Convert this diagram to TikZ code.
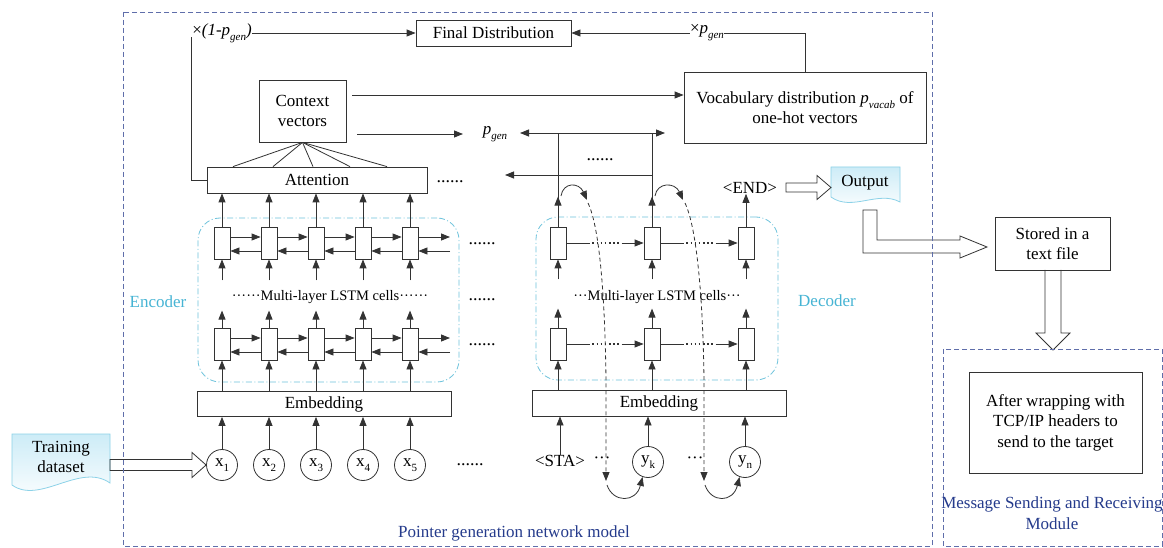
\documentclass[tikz,border=0pt]{standalone}
\usepackage{fontspec}
\setmainfont{Liberation Serif}
\usetikzlibrary{arrows.meta,calc}
\definecolor{ink}{HTML}{333333}
\definecolor{frameblue}{RGB}{95,110,170}
\definecolor{labelblue}{RGB}{37,59,140}
\definecolor{cyanline}{RGB}{110,195,220}
\definecolor{cyantext}{RGB}{70,180,212}
\definecolor{docline}{RGB}{140,210,232}
\definecolor{docfill}{RGB}{205,236,247}
\newcommand\sub[1]{\raisebox{-0.3em}{\fontsize{11}{11}\selectfont #1}}
\newcommand\pgen{\textit{p}\sub{\textit{gen}}}
\newcommand\pvacab{\textit{p}\sub{\textit{vacab}}}
\begin{document}
\begin{tikzpicture}[x=1pt,y=-1pt,
  every node/.style={font=\fontsize{17}{20.5}\selectfont, inner sep=0pt},
  ln/.style={draw=ink, line width=0.8pt},
  arr/.style={ln, -{Triangle[length=9pt,width=7pt]}},
  box/.style={draw=ink, line width=0.8pt, fill=white, align=center},
  cell/.style={box, minimum width=16pt, minimum height=32pt},
  tok/.style={draw=ink, line width=0.8pt, circle, minimum size=31pt, fill=white},
  hollow/.style={draw=ink, line width=0.8pt, line join=miter},
  dashframe/.style={draw=frameblue, line width=0.8pt, dash pattern=on 5pt off 3pt},
  lstmframe/.style={draw=cyanline, line width=0.8pt, dash pattern=on 6pt off 2.5pt on 1pt off 2.5pt, rounded corners=22pt},
  docshape/.style={draw=docline, line width=0.8pt, top color=docfill, bottom color=white},
  smalltxt/.style={font=\fontsize{14.5}{17}\selectfont},
  dotrow/.style={font=\fontsize{18}{20}\selectfont},
]
\fill[white] (0,0) rectangle (1163,548);
\useasboundingbox (0,0) rectangle (1163,548);

% ---------- top: distributions ----------
\node[box, minimum width=155pt, minimum height=26pt] (fd) at (493.5,33) {Final Distribution};
\node[box, minimum width=87pt, minimum height=62pt] (ctx) at (302.5,111) {Context\\vectors};
\node[box, minimum width=242pt, minimum height=71pt] (voc) at (805,107.5) {Vocabulary distribution \pvacab{} of\\one-hot vectors};
\node (wl) at (222,33) {×\textit{(1-}\pgen\textit{)}};
\node (xp) at (707,33) {×\pgen};
\node (pgl) at (495,134) {\pgen};

% ---------- encoder ----------
\node[box, minimum width=220pt, minimum height=26pt] (att) at (317,180) {Attention};
\node[box, minimum width=254pt, minimum height=25pt] (emb1) at (324,404) {Embedding};
\node[lstmframe, minimum width=261pt, minimum height=164pt] (encf) at (328.5,300) {};
\foreach \i/\x in {1/222,2/269,3/316,4/363,5/410} {
  \node[cell] (et\i) at (\x,243) {};
  \node[cell] (eb\i) at (\x,344) {};
  \node[tok] (x\i) at (\x,465) {x\sub{\i}};
}
\foreach \i in {1,...,5} {
  \draw[arr] (x\i.north) -- (emb1.south -| x\i);
  \draw[arr] (emb1.north -| eb\i) -- (eb\i.south);
  \draw[arr] (eb\i.north) -- ++(0,-17);
  \draw[arr] ([yshift=-21pt]et\i.south) -- (et\i.south);
  \draw[arr] (et\i.north) -- (att.south -| et\i);
}
\foreach \i/\j in {1/2,2/3,3/4,4/5} {
  \draw[arr] ([yshift=6pt]et\i.east) -- ([yshift=6pt]et\j.west);
  \draw[arr] ([yshift=-8pt]et\j.west) -- ([yshift=-8pt]et\i.east);
  \draw[arr] ([yshift=6pt]eb\i.east) -- ([yshift=6pt]eb\j.west);
  \draw[arr] ([yshift=-8pt]eb\j.west) -- ([yshift=-8pt]eb\i.east);
}
\coordinate (etf) at (450,237);
\coordinate (etb) at (450,251);
\coordinate (ebf) at (450,338);
\coordinate (ebb) at (450,352);
\draw[arr] ([yshift=6pt]et5.east) -- (etf);
\draw[arr] (etb) -- ([yshift=-8pt]et5.east);
\draw[arr] ([yshift=6pt]eb5.east) -- (ebf);
\draw[arr] (ebb) -- ([yshift=-8pt]eb5.east);
\node[smalltxt] (encml) at (330,297) {······Multi-layer LSTM cells······};
\node[text=cyantext] (encl) at (158,302) {Encoder};
\node[dotrow] (d1) at (482,244) {......};
\node[dotrow] (d2) at (482,300) {......};
\node[dotrow] (d3) at (482,345) {......};
\node[dotrow] (d4) at (450,182) {......};
\node[dotrow] (d5) at (470,465) {......};

% context vectors fan-in from the attention
\foreach \x in {233,273,313,350,387}
  \draw[ln] (ctx.south) -- (att.north -| \x,0);

% ---------- decoder ----------
\node[box, minimum width=254pt, minimum height=26pt] (emb2) at (659,403) {Embedding};
\node[lstmframe, minimum width=242pt, minimum height=163pt] (decf) at (657,298.5) {};
\foreach \i/\x in {1/558,2/652,3/746} {
  \node[cell] (dt\i) at (\x,243) {};
  \node[cell] (db\i) at (\x,344) {};
}
\foreach \i in {1,2,3} {
  \draw[arr] (emb2.north -| db\i) -- (db\i.south);
  \draw[arr] (db\i.north) -- ++(0,-19);
  \draw[arr] ([yshift=-20pt]dt\i.south) -- (dt\i.south);
}
\foreach \a/\b in {dt1/dt2,dt2/dt3,db1/db2,db2/db3} {
  \draw[ln] (\a.east) -- ($(\a.east)+(24,0)$);
  \draw[ln, line width=1.7pt, dash pattern=on 1.7pt off 2.4pt] ($(\a.east)+(26,0)$) -- ($(\b.west)+(-23,0)$);
  \draw[arr] ($(\b.west)+(-22,0)$) -- (\b.west);
}
\node[smalltxt] (decml) at (657,297) {···Multi-layer LSTM cells···};
\node[text=cyantext] (decl) at (827,301) {Decoder};

\node (sta) at (560,461) {<STA>};
\node (dd1) at (602,460) {···};
\node[tok] (yk) at (648,462) {y\sub{k}};
\node (dd2) at (695,460) {···};
\node[tok] (yn) at (745,462) {y\sub{n}};
\draw[arr] (sta.north) -- (emb2.south -| sta);
\draw[arr] (yk.north) -- (emb2.south -| yk);
\draw[arr] (yn.north) -- (emb2.south -| yn);

\node (endt) at (750,188) {<END>};
\draw[arr] (dt3.north) -- (endt.south -| dt3);

% p_gen junctions above the decoder
\coordinate (j1) at (558,133);
\coordinate (j2) at (652,133);
\coordinate (pgtip) at (520,133);
\coordinate (rtip) at (665,133);
\coordinate (ltip) at (505,175);
\coordinate (ljoin) at (652,175);
\draw[ln] (dt1.north) -- (j1);
\draw[ln] (dt2.north) -- (j2);
\draw[arr] (dt1.north) -- ++(0,-30);
\draw[arr] (dt2.north) -- ++(0,-30);
\draw[arr] (j1) -- (pgtip);
\draw[arr] (j1) -- (rtip);
\draw[arr] (ljoin) -- (ltip);
\node[dotrow] (d6) at (600,160) {......};

% copy paths from the decoder back to the inputs
\draw[arr] (561,196) .. controls (563,182) and (579,182) .. (587,200);
\draw[arr, dash pattern=on 4pt off 3pt] (588,203) .. controls (600,228) and (605,300) .. (606,380) -- (606,481);
\draw[arr] (607,485) .. controls (613,503) and (636,503) .. (yk.250);
\draw[arr] (655,196) .. controls (657,182) and (675,182) .. (683,200);
\draw[arr, dash pattern=on 4pt off 3pt] (685,203) .. controls (697,228) and (703,300) .. (704,380) -- (704,481);
\draw[arr] (705,485) .. controls (711,503) and (733,503) .. (yn.250);

% ---------- mixing connectors ----------
\draw[ln] (att.west) -- (191,180) -- (191,37);
\draw[arr] (wl.east) -- (fd.west);
\draw[ln] (voc.north) -- (805,33) -- (xp.east);
\draw[arr] (xp.west) -- (fd.east);
\coordinate (c1) at (352,95);
\coordinate (c2) at (357,134);
\coordinate (c3) at (463,134);
\draw[arr] (c1) -- (voc.west |- c1);
\draw[arr] (c2) -- (c3);

% ---------- documents and block arrows ----------
\draw[docshape] (12,434) -- (110,434) -- (110,483) .. controls (80,462) and (40,505) .. (12,485) -- cycle;
\node[align=center] (train) at (61,457) {Training\\dataset};
\draw[hollow] (110,459.5) -- (192,459.5) -- (192,452.5) -- (x1.west) -- (192,477.5) -- (192,470.5) -- (110,470.5) -- cycle;

\draw[docshape] (831,167) -- (900,167) -- (900,202) .. controls (878,190) and (852,212) .. (831,197) -- cycle;
\node (out) at (865,183) {Output};
\draw[hollow] (786,183) -- (817,183) -- (817,175.5) -- (831,187.5) -- (817,199.5) -- (817,192) -- (786,192) -- cycle;

\node[box, minimum width=115pt, minimum height=53pt] (store) at (1052.5,243.5) {Stored in a\\text file};
\draw[hollow] (863,210) -- (877,210) -- (877,240) -- (960,240) -- (960,236) -- (987,247) -- (960,258) -- (960,253) -- (863,253) -- cycle;
\draw[hollow] (1045,270) -- (1045,333) -- (1036,333) -- (1053,350) -- (1070,333) -- (1061,333) -- (1061,270);

\node[box, minimum width=173pt, minimum height=101pt] (wrap) at (1055.5,422.5) {After wrapping with\\TCP/IP headers to\\send to the target};

% ---------- module frames ----------
\draw[dashframe] (123,12) rectangle (932,546);
\draw[dashframe] (943,349) rectangle (1162,546);
\node[text=labelblue] (pgnl) at (514,533) {Pointer generation network model};
\node[text=labelblue, align=center] (msgl) at (1052,513) {Message Sending and Receiving\\Module};
\end{tikzpicture}
\end{document}
